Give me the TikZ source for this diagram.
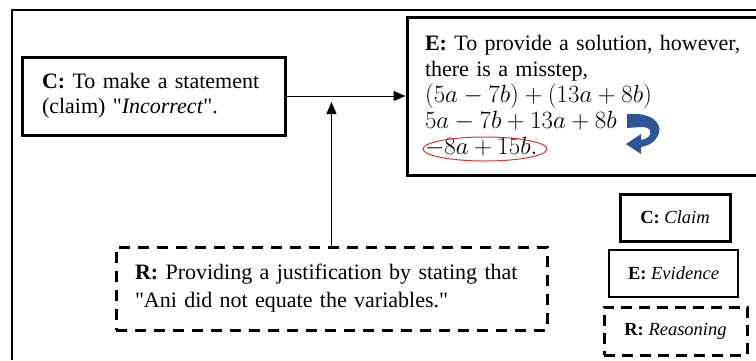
\documentclass[tikz,border=0pt]{standalone}
\usepackage{fontspec}
\setmainfont{Liberation Serif}
\usetikzlibrary{arrows.meta}
\definecolor{arrowblue}{RGB}{47,85,151}
\definecolor{ovalred}{RGB}{220,50,50}
\newcommand{\bigmath}[1]{{\fontsize{24.88}{26}\selectfont $#1$}}
\begin{document}
\begin{tikzpicture}[x=1pt,y=-1pt,
  solidbox/.style={draw, line width=3pt, rectangle, inner ysep=0pt},
  dashbox/.style={draw, line width=3pt, rectangle, dash pattern=on 11pt off 8pt, inner ysep=0pt},
  bigtext/.style={font=\fontsize{22}{26}\selectfont, align=left},
  legtext/.style={font=\fontsize{18.5}{22}\selectfont, align=center},
  conn/.style={line width=1pt, -{Triangle[length=12pt,width=10pt]}}]
\useasboundingbox (0,0) rectangle (756,360);
% outer frame lines
\draw[line width=1.3pt] (12,360) -- (12,10) -- (760,10);
% main boxes
\node[solidbox, bigtext, font=\fontsize{22}{25}\selectfont, minimum width=263pt, minimum height=78pt, text width=223pt, inner xsep=20pt] (C) at (153.5,96)
  {\textbf{C:} To make a statement\\(claim) \textquotedbl\textit{Incorrect}\textquotedbl.};
\node[solidbox, bigtext, minimum width=366pt, minimum height=158pt, text width=330pt, inner xsep=18pt] (E) at (590,96)
  {\textbf{E:} To provide a solution, however,\\there is a misstep,\\\bigmath{(5a-7b)+(13a+8b)}\\\bigmath{5a-7b+13a+8b}\\\bigmath{-8a+15b.}};
\node[dashbox, bigtext, font=\fontsize{22}{28}\selectfont, minimum width=431pt, minimum height=83pt, text width=393pt, inner xsep=19pt] (R) at (331.5,288.5)
  {\textbf{R:} Providing a justification by stating that\\\textquotedbl Ani did not equate the variables.\textquotedbl};
% legend
\node[solidbox, legtext, minimum width=110pt, minimum height=47pt] (LC) at (675,217.5) {\textbf{C:} \textit{Claim}};
\node[draw, line width=2pt, legtext, minimum width=129pt, minimum height=47pt] (LE) at (673.5,273.5) {\textbf{E:} \textit{Evidence}};
\node[dashbox, legtext, dash pattern=on 11pt off 7pt, minimum width=143pt, minimum height=48pt] (LR) at (675.5,331) {\textbf{R:} \textit{Reasoning}};
% connectors
\draw[conn] (C.east) -- (E.west);
\coordinate (vt) at (331.5,102);
\draw[conn] (R.north) -- (vt);
% red oval
\draw[ovalred, line width=1pt] (485,149) ellipse [x radius=62, y radius=12];
% blue U-turn arrow
\fill[arrowblue] (627,114) .. controls (650,112) and (662,122) .. (659,133)
  .. controls (656,142) and (648,146) .. (641,147) -- (641,154) -- (626,144) -- (641,134) -- (641,140)
  .. controls (648,139) and (652,135) .. (650,130) .. controls (648,126) and (640,127) .. (627,128) -- cycle;
\end{tikzpicture}
\end{document}
